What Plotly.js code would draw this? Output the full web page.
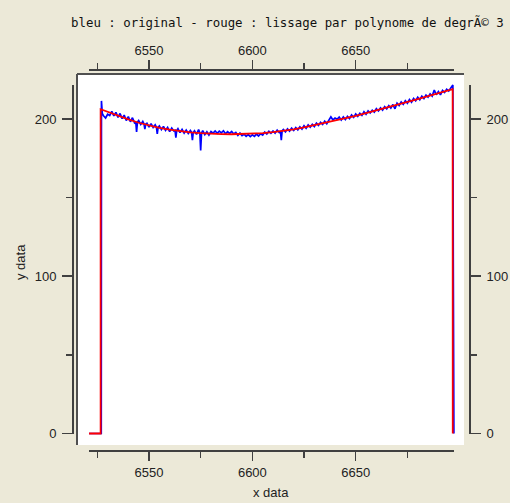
<!DOCTYPE html>
<html>
<head>
<meta charset="utf-8">
<script src="https://cdn.plot.ly/plotly-3.0.1.min.js"></script>
<style>html,body{margin:0;padding:0;background:#ECE9D8;}#chart{width:510px;height:503px;}</style>
</head>
<body>
<div id="chart"></div>
<script>
// ---- data ----
const titleText = "bleu : original - rouge : lissage par polynome de degrÃ© 3";
const xTitle = "x data";
const yTitle = "y data";

// original spectrum (blue)
const blueX = [6521, 6526.9,
  6527,6527.4,6528,6529,6530,6531,6532,6533,6534,6535,6536,
  6537,6538,6539,6540,6541,6542,6543,6543.6,6544,6544.4,6545,6546,
  6547,6547.6,6548,6548.4,6549,6550,6551,6552,6553,6553.6,6554,6554.4,6555,6556,
  6557,6558,6559,6560,6561,6562,6562.6,6563,6563.4,6564,6565,6566,
  6567,6568,6569,6570,6570.6,6571,6571.4,6572,6573,6574,6574.6,6575,6575.4,6576,
  6577,6578,6579,6580,6581,6582,6583,6584,6585,6586,
  6587,6588,6589,6590,6591,6592,6593,6594,6595,6596,
  6597,6598,6599,6600,6601,6602,6603,6604,6605,6606,
  6607,6608,6609,6610,6611,6612,6613,6613.6,6614,6614.4,6615,6616,
  6617,6618,6619,6620,6621,6622,6623,6624,6625,6626,
  6627,6628,6629,6630,6631,6632,6633,6634,6635,6636,
  6637,6638,6639,6640,6641,6642,6643,6644,6645,6646,
  6647,6648,6649,6650,6651,6652,6653,6654,6655,6656,
  6657,6658,6659,6660,6661,6662,6663,6664,6665,6666,
  6667,6668,6669,6670,6671,6672,6673,6674,6675,6676,
  6677,6678,6679,6680,6681,6682,6683,6684,6685,6686,
  6687,6688,6689,6690,6691,6692,6693,6694,6695,6696,
  6697, 6697.2, 6697.25, 6697.5];
const blueY = [0, 0,
  211.5,203.5,202.0,200.6,203.0,202.2,204.8,202.0,204.2,201.0,203.5,
  200.2,202.5,199.0,201.5,198.2,200.8,197.5,198.2,191.7,198.0,199.0,196.5,
  198.4,196.8,193.6,196.6,197.2,194.8,197.0,194.6,196.3,194.8,190.5,194.7,195.6,193.2,
  195.3,192.8,194.6,192.0,194.2,192.4,192.8,188.2,192.6,193.8,191.3,193.4,
  191.0,193.0,190.8,192.7,191.5,186.6,191.4,192.5,190.2,193.2,191.2,180.0,191.0,192.6,
  190.0,191.9,189.8,192.0,191.0,192.4,190.9,192.3,191.2,192.5,
  190.6,191.9,190.8,192.1,190.5,191.4,189.6,191.0,189.4,190.3,
  188.9,190.0,188.8,189.9,188.9,190.4,189.2,190.6,189.8,191.7,
  190.4,192.2,190.9,192.4,191.0,192.9,191.4,192.3,186.6,192.4,193.3,191.8,
  193.7,192.3,194.2,192.7,194.5,193.1,195.0,193.6,195.7,194.1,
  196.2,194.8,196.6,195.2,197.4,195.9,197.9,196.5,198.6,197.0,
  199.5,201.3,199.4,200.6,199.8,201.2,199.4,201.3,199.6,201.6,
  200.3,202.5,201.0,203.2,201.7,203.6,202.3,204.6,203.0,205.1,
  203.8,205.6,204.4,206.6,205.1,207.0,205.6,207.8,206.4,208.5,
  206.9,209.2,206.5,210.1,208.6,210.8,209.3,211.6,210.0,212.4,
  210.7,213.0,211.6,213.8,212.2,214.5,213.0,215.2,213.9,216.0,
  214.6,218.4,215.4,217.4,215.3,218.2,216.9,218.9,217.8,219.5,
  221.6, 110.8, 0, 0];

// degree-3 polynomial smoothing (red)
const redX = [6521, 6526.6, 6526.6, 6530, 6535, 6540, 6545, 6550, 6555, 6560,
  6565, 6570, 6575, 6580, 6585, 6590, 6595, 6600, 6605, 6610, 6615, 6620,
  6625, 6630, 6635, 6640, 6645, 6650, 6655, 6660, 6665, 6670, 6675, 6680,
  6685, 6690, 6695, 6696.9, 6696.95];
const redY = [0, 0, 206.2, 204.5, 202.0, 199.7, 197.6, 195.8, 194.4, 193.2,
  192.2, 191.5, 191.0, 190.6, 190.4, 190.3, 190.4, 190.6, 191.0, 191.6, 192.4, 193.4,
  194.6, 196.0, 197.4, 198.9, 200.4, 202.0, 203.7, 205.4, 207.2, 209.0, 210.8, 212.6,
  214.5, 216.4, 218.2, 219.0, 0];

// ---- geometry (pixels) ----
const W = 510, H = 503;
const L = 73, R = 470, T = 70, B = 451;           // free-axis lines
const pw = R - L, ph = B - T;
const px = v => (v - L) / pw;
const py = v => (B - v) / ph;
const boxL = 77, boxR = 464, boxT = 74, boxB = 445;  // white plot box
const axL = 89, axR = 454, axT = 85, axB = 434;      // axis line extents

const lineCol = '#404040';
const tickFont = {family: 'Liberation Sans, Arial, sans-serif', size: 13, color: '#222'};

const xAux = (side, pos) => ({
  domain: [px(axL), px(axR)], range: [6520.97, 6697.56],
  anchor: 'free', position: pos, side: side,
  showline: true, linecolor: lineCol, linewidth: 2,
  ticks: 'outside', ticklen: 9, tickwidth: 1.5, tickcolor: lineCol,
  tick0: 0, dtick: 50, showgrid: false, zeroline: false,
  minor: {dtick: 25, tick0: 0, ticks: 'outside', ticklen: 6, tickwidth: 1.5, tickcolor: lineCol, showgrid: false},
  tickfont: tickFont, fixedrange: true
});
const yAux = (side, pos) => ({
  domain: [py(axB), py(axT)], range: [-0.32, 221.6],
  anchor: 'free', position: pos, side: side,
  showline: true, linecolor: lineCol, linewidth: 2,
  ticks: 'outside', ticklen: 10, tickwidth: 1.5, tickcolor: lineCol,
  tick0: 0, dtick: 100, showgrid: false, zeroline: false,
  minor: {dtick: 50, tick0: 0, ticks: 'outside', ticklen: 6, tickwidth: 1.5, tickcolor: lineCol, showgrid: false},
  tickfont: tickFont, ticklabelstandoff: 3, fixedrange: true
});

const traces = [
  {x: blueX, y: blueY, xaxis: 'x', yaxis: 'y', mode: 'lines',
   line: {color: '#0000ff', width: 1.7}, hoverinfo: 'skip'},
  {x: redX, y: redY, xaxis: 'x', yaxis: 'y', mode: 'lines',
   line: {color: '#ff0000', width: 1.8}, hoverinfo: 'skip'},
  {x: [6600], y: [100], xaxis: 'x2', yaxis: 'y2', mode: 'markers', marker: {opacity: 0}, hoverinfo: 'skip'},
  {x: [6600], y: [100], xaxis: 'x3', yaxis: 'y3', mode: 'markers', marker: {opacity: 0}, hoverinfo: 'skip'}
];

const hidden = {visible: false, showgrid: false, zeroline: false, fixedrange: true};

const layout = {
  width: W, height: H,
  margin: {l: L, r: W - R, t: T, b: H - B, pad: 0},
  paper_bgcolor: '#ECE9D8', plot_bgcolor: 'rgba(0,0,0,0)',
  showlegend: false,
  font: tickFont,
  xaxis: Object.assign({}, hidden, {domain: [px(boxL), px(boxR)], range: [6515.17, 6702.39], anchor: 'y'}),
  yaxis: Object.assign({}, hidden, {domain: [py(boxB), py(boxT)], range: [-7.31, 228.6], anchor: 'x'}),
  xaxis2: xAux('bottom', 0),
  yaxis2: yAux('left', 0),
  xaxis3: xAux('top', 1),
  yaxis3: yAux('right', 1),
  shapes: [
    {type: 'rect', xref: 'paper', yref: 'paper', x0: px(boxL), x1: px(boxR), y0: py(boxB), y1: py(boxT),
     fillcolor: '#ffffff', line: {width: 0}, layer: 'below'},
    {type: 'line', xref: 'paper', yref: 'paper', x0: px(boxL), x1: px(boxR), y0: py(boxT), y1: py(boxT),
     line: {color: '#505050', width: 2}},
    {type: 'line', xref: 'paper', yref: 'paper', x0: px(boxL), x1: px(boxL), y0: py(boxB), y1: py(boxT),
     line: {color: '#505050', width: 2}}
  ],
  annotations: [
    {text: titleText, xref: 'paper', yref: 'paper', x: px(287), y: py(22), showarrow: false,
     xanchor: 'center', yanchor: 'middle',
     font: {family: 'DejaVu Sans Mono, monospace', size: 12.4, color: '#111'}},
    {text: xTitle, xref: 'paper', yref: 'paper', x: px(271), y: py(492), showarrow: false,
     xanchor: 'center', yanchor: 'middle', font: tickFont},
    {text: yTitle, xref: 'paper', yref: 'paper', x: px(20), y: py(262), showarrow: false, textangle: -90,
     xanchor: 'center', yanchor: 'middle', font: tickFont}
  ]
};

Plotly.newPlot('chart', traces, layout, {staticPlot: true, displayModeBar: false});
</script>
</body>
</html>
